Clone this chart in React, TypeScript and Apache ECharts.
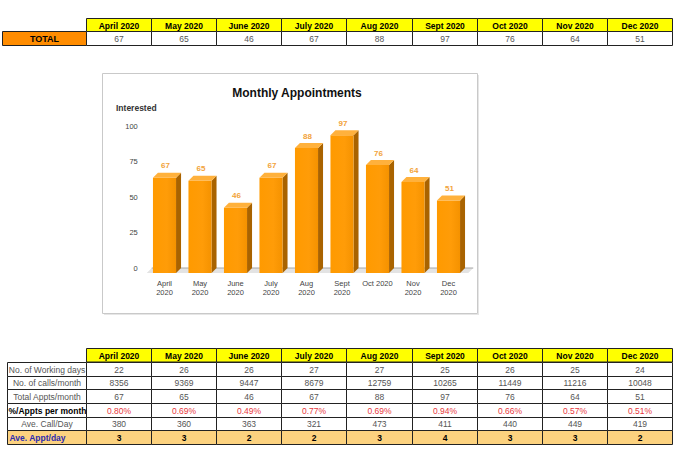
import React, { useEffect, useRef } from "react";
import * as echarts from "echarts";

// ---------- data ----------
const months = ["April 2020", "May 2020", "June 2020", "July 2020", "Aug 2020", "Sept 2020", "Oct 2020", "Nov 2020", "Dec 2020"];
const chartCategories = ["April\n2020", "May\n2020", "June\n2020", "July\n2020", "Aug\n2020", "Sept\n2020", "Oct 2020", "Nov\n2020", "Dec\n2020"];
const totalAppts = [67, 65, 46, 67, 88, 97, 76, 64, 51];
const workingDays = [22, 26, 26, 27, 27, 25, 26, 25, 24];
const callsPerMonth = [8356, 9369, 9447, 8679, 12759, 10265, 11449, 11216, 10048];
const pctAppts = ["0.80%", "0.69%", "0.49%", "0.77%", "0.69%", "0.94%", "0.66%", "0.57%", "0.51%"];
const aveCallDay = [380, 360, 363, 321, 473, 411, 440, 449, 419];
const aveApptDay = [3, 3, 2, 2, 3, 4, 3, 3, 2];
const rowLabels = ["No. of Working days", "No. of calls/month", "Total Appts/month", "%/Appts per month", "Ave. Call/Day", "Ave. Appt/day"];
const chartTitle = "Monthly Appointments";
const yAxisName = "Interested";
const totalLabel = "TOTAL";

const FONT = "'Liberation Sans', Arial, sans-serif";
const DX = 5;
const DY = 5;

function txt(x: number, y: number, text: string, opts: any = {}) {
  const align = opts.align || "center";
  return {
    type: "text",
    x,
    y,
    silent: true,
    style: {
      text,
      fill: opts.color || "#555",
      fontSize: opts.size || 8.5,
      fontWeight: opts.weight || "normal",
      fontFamily: FONT,
      align,
      verticalAlign: "middle",
      textAlign: align,
      textVerticalAlign: "middle",
    },
  };
}

function rect(x: number, y: number, w: number, h: number, fill: string, stroke = "#222") {
  return {
    type: "rect",
    silent: true,
    shape: { x, y, width: w, height: h },
    style: { fill, stroke, lineWidth: 1 },
  };
}

function buildTables() {
  const els: any[] = [];
  const colX = (i: number) => Math.round(86 + i * 65.1) + 0.5;
  // ---- top table ----
  const tH0 = 18.5, tH1 = 31.5, tT1 = 45.5;
  els.push(rect(2.5, tH1, colX(0) - 2.5, tT1 - tH1, "#ff8c00"));
  els.push(txt((2.5 + colX(0)) / 2, (tH1 + tT1) / 2, totalLabel, { color: "#000", weight: "bold", size: 9 }));
  months.forEach((m, i) => {
    const x = colX(i), w = colX(i + 1) - colX(i);
    els.push(rect(x, tH0, w, tH1 - tH0, "#ffff00"));
    els.push(txt(x + w / 2, (tH0 + tH1) / 2 + 0.5, m, { color: "#000", weight: "bold" }));
    els.push(rect(x, tH1, w, tT1 - tH1, "#ffffff"));
    els.push(txt(x + w / 2, (tH1 + tT1) / 2, String(totalAppts[i]), {}));
  });
  // ---- bottom table ----
  const bH0 = 348.5, bH1 = 362;
  const rowH = 13.67;
  const rowsData: (string | number)[][] = [workingDays, callsPerMonth, totalAppts, pctAppts, aveCallDay, aveApptDay];
  months.forEach((m, i) => {
    const x = colX(i), w = colX(i + 1) - colX(i);
    els.push(rect(x, bH0, w, bH1 - bH0, "#ffff00"));
    els.push(txt(x + w / 2, (bH0 + bH1) / 2 + 0.5, m, { color: "#000", weight: "bold" }));
  });
  rowsData.forEach((row, r) => {
    const y = Math.round(bH1 + r * rowH) + 0.5;
    const y2 = Math.round(bH1 + (r + 1) * rowH) + 0.5;
    const h = y2 - y;
    const last = r === rowsData.length - 1;
    const bg = last ? "#fcd27f" : "#ffffff";
    els.push(rect(7.5, y, colX(0) - 7.5, h, bg));
    if (last) {
      els.push(txt(9.5, y + h / 2, rowLabels[r], { color: "#2b2bb0", weight: "bold", align: "left" }));
    } else if (r === 3) {
      els.push(txt((7.5 + colX(0)) / 2 + 0.5, y + h / 2, rowLabels[r], { color: "#000", weight: "bold" }));
    } else {
      els.push(txt((7.5 + colX(0)) / 2, y + h / 2, rowLabels[r], { color: "#555" }));
    }
    row.forEach((v, i) => {
      const x = colX(i), w = colX(i + 1) - colX(i);
      els.push(rect(x, y, w, h, bg));
      let style: any = { color: "#555" };
      if (r === 3) style = { color: "#e8383d" };
      if (last) style = { color: "#000", weight: "bold" };
      els.push(txt(x + w / 2, y + h / 2, String(v), style));
    });
  });
  // ---- chart frame ----
  els.push({
    type: "rect",
    silent: true,
    shape: { x: 102.5, y: 73.5, width: 375, height: 240 },
    style: { fill: "rgba(0,0,0,0)", stroke: "#c9c9c9", lineWidth: 1 },
  });
  els.push({
    type: "line",
    silent: true,
    shape: { x1: 104, y1: 314.5, x2: 478, y2: 314.5 },
    style: { stroke: "#e6e6e6", lineWidth: 1 },
  });
  els.push({
    type: "line",
    silent: true,
    shape: { x1: 478.5, y1: 75, x2: 478.5, y2: 315 },
    style: { stroke: "#e6e6e6", lineWidth: 1 },
  });
  els.push({
    type: "text",
    x: 297,
    y: 93,
    silent: true,
    style: {
      text: chartTitle, fill: "#111", fontSize: 12, fontWeight: "bold", fontFamily: FONT,
      align: "center", verticalAlign: "middle", textAlign: "center", textVerticalAlign: "middle",
    },
  });
  els.push(txt(116, 108, yAxisName, { color: "#333", size: 8.5, weight: "bold", align: "left" }));
  return els;
}

export default function App() {
  const ref = useRef<HTMLDivElement>(null);
  useEffect(() => {
    if (!ref.current) return;
    const chart = echarts.init(ref.current, undefined, { renderer: "svg" });
    const option: any = {
      animation: false,
      backgroundColor: "#ffffff",
      textStyle: { fontFamily: FONT },
      grid: { left: 151.75, top: 126, width: 319.5, height: 142, containLabel: false },
      xAxis: {
        type: "category",
        data: chartCategories,
        axisLine: { show: false },
        axisTick: { show: false },
        axisLabel: {
          interval: 0,
          fontSize: 7.5,
          lineHeight: 9,
          color: "#444",
          margin: 11,
          padding: [0, 10, 0, 0],
          fontFamily: FONT,
        },
      },
      yAxis: {
        type: "value",
        min: 0,
        max: 100,
        interval: 25,
        axisLine: { show: false },
        axisTick: { show: false },
        splitLine: { show: false },
        axisLabel: { fontSize: 7.5, color: "#444", margin: 14, fontFamily: FONT },
      },
      graphic: { elements: buildTables() },
      series: [
        {
          type: "custom",
          name: "floor",
          silent: true,
          z: 1,
          data: [[0, 0]],
          encode: { x: 0, y: 1 },
          renderItem: (params: any, api: any) => {
            const cs = params.coordSys;
            const l = cs.x, r = cs.x + cs.width, b = cs.y + cs.height;
            return {
              type: "group",
              children: [
                {
                  type: "polygon",
                  shape: { points: [[l, b], [r + 2, b], [r + 2 - DX, b + DY], [l - DX, b + DY]] },
                  style: { fill: "#e3e3e3" },
                },
                {
                  type: "line",
                  shape: { x1: l, y1: b, x2: r + 2, y2: b },
                  style: { stroke: "#a8a8a8", lineWidth: 1 },
                },
              ],
            };
          },
        },
        {
          type: "custom",
          name: "Appointments",
          z: 3,
          data: totalAppts.map((v, i) => [i, v]),
          encode: { x: 0, y: 1 },
          renderItem: (params: any, api: any) => {
            const idx = api.value(0);
            const v = api.value(1);
            const top = api.coord([idx, v]);
            const base = api.coord([idx, 0]);
            const band = api.size([1, 0])[0];
            const w = band * 0.65;
            const fl = top[0] - w / 2 - DX;
            const ft = top[1] + DY;
            const fb = base[1] + DY;
            return {
              type: "group",
              children: [
                {
                  type: "polygon",
                  shape: { points: [[fl + w, ft], [fl + w + DX, ft - DY], [fl + w + DX, fb - DY], [fl + w, fb]] },
                  style: { fill: "#a96300" },
                },
                {
                  type: "rect",
                  shape: { x: fl, y: ft, width: w, height: fb - ft },
                  style: {
                    fill: new echarts.graphic.LinearGradient(0, 0, 1, 0, [
                      { offset: 0, color: "#ff9a00" },
                      { offset: 0.6, color: "#ff9c08" },
                      { offset: 1, color: "#f59200" },
                    ]),
                  },
                },
                {
                  type: "polygon",
                  shape: { points: [[fl, ft], [fl + DX, ft - DY], [fl + w + DX, ft - DY], [fl + w, ft]] },
                  style: { fill: "#ffb13c" },
                },
                {
                  type: "text",
                  x: fl + w / 2 + 1,
                  y: ft - DY - 3,
                  style: {
                    text: String(v),
                    fill: "#f2a33a",
                    fontSize: 8,
                    fontWeight: "bold",
                    fontFamily: FONT,
                    align: "center",
                    verticalAlign: "bottom",
                    textAlign: "center",
                    textVerticalAlign: "bottom",
                  },
                },
              ],
            };
          },
        },
      ],
    };
    chart.setOption(option);
    return () => chart.dispose();
  }, []);
  return (
    <div
      ref={ref}
      style={{ position: "fixed", left: 0, top: 0, width: 680, height: 454, background: "#fff" }}
    />
  );
}
